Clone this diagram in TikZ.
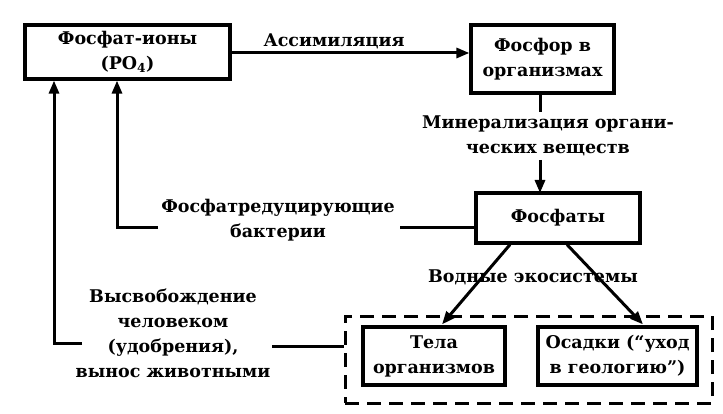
\documentclass[tikz,border=0pt]{standalone}
\usepackage{fontspec}
\setmainfont{DejaVu Serif}
\usetikzlibrary{arrows.meta}
\begin{document}
\begin{tikzpicture}[x=1pt,y=-1pt,
  every node/.style={font=\fontsize{17.5}{25}\selectfont\bfseries},
  box/.style={draw,line width=3.2pt,inner sep=0pt,align=center},
  lab/.style={inner sep=0pt,align=center},
  ln/.style={line width=3pt},
  arr/.style={line width=3pt,-{Triangle[length=13pt,width=10pt]}},
  dbox/.style={draw,line width=3pt,dash pattern=on 14pt off 8pt}]
\useasboundingbox (0,0) rectangle (723,414);
\node[box,minimum width=205pt,minimum height=54pt] (A) at (127.5,52) {Фосфат-ионы\\(PO\textsubscript{4})};
\node[box,minimum width=143pt,minimum height=68pt] (B) at (542.5,59) {Фосфор в\\организмах};
\node[box,minimum width=164pt,minimum height=50pt] (C) at (558,218) {Фосфаты};
\node[dbox,minimum width=367pt,minimum height=87pt] (F) at (528.5,359.5) {};
\node[box,minimum width=142pt,minimum height=58pt] (D) at (434,356) {Тела\\организмов};
\node[box,minimum width=159pt,minimum height=58pt] (E) at (617.5,356) {Осадки (“уход\\в геологию”)};
\node[lab] (As) at (334,41) {Ассимиляция};
\node[lab] (M) at (548,136) {Минерализация органи-\\ческих веществ};
\node[lab] (P) at (278,220) {Фосфатредуцирующие\\бактерии};
\node[lab] (V) at (173,333.5) {Высвобождение\\человеком\\(удобрения),\\вынос животными};
\node[lab] (W) at (533,277) {Водные экосистемы};
\coordinate (p1) at (400,228);
\coordinate (p2) at (158,228);
\coordinate (q1) at (82,343);
\coordinate (q2) at (272,346);
\draw[arr] (A.east |- 0,53) -- (B.west |- 0,53);
\draw[ln] (B.south -| 540,0) -- (540,112);
\draw[arr] (540,160) -- (540,193);
\draw[ln] (C.west |- p1) -- (p1);
\draw[arr] (p2) -| ([xshift=-10.5pt]A.south);
\draw[arr] (q1) -| ([xshift=-73.5pt]A.south);
\draw[ln] (q2) -- (F.west |- q2);
\draw[arr] ([xshift=-48pt]C.south) -- ([xshift=8pt,yshift=1pt]D.north);
\draw[arr] ([xshift=9pt]C.south) -- ([xshift=25.5pt,yshift=1pt]E.north);
\end{tikzpicture}
\end{document}
